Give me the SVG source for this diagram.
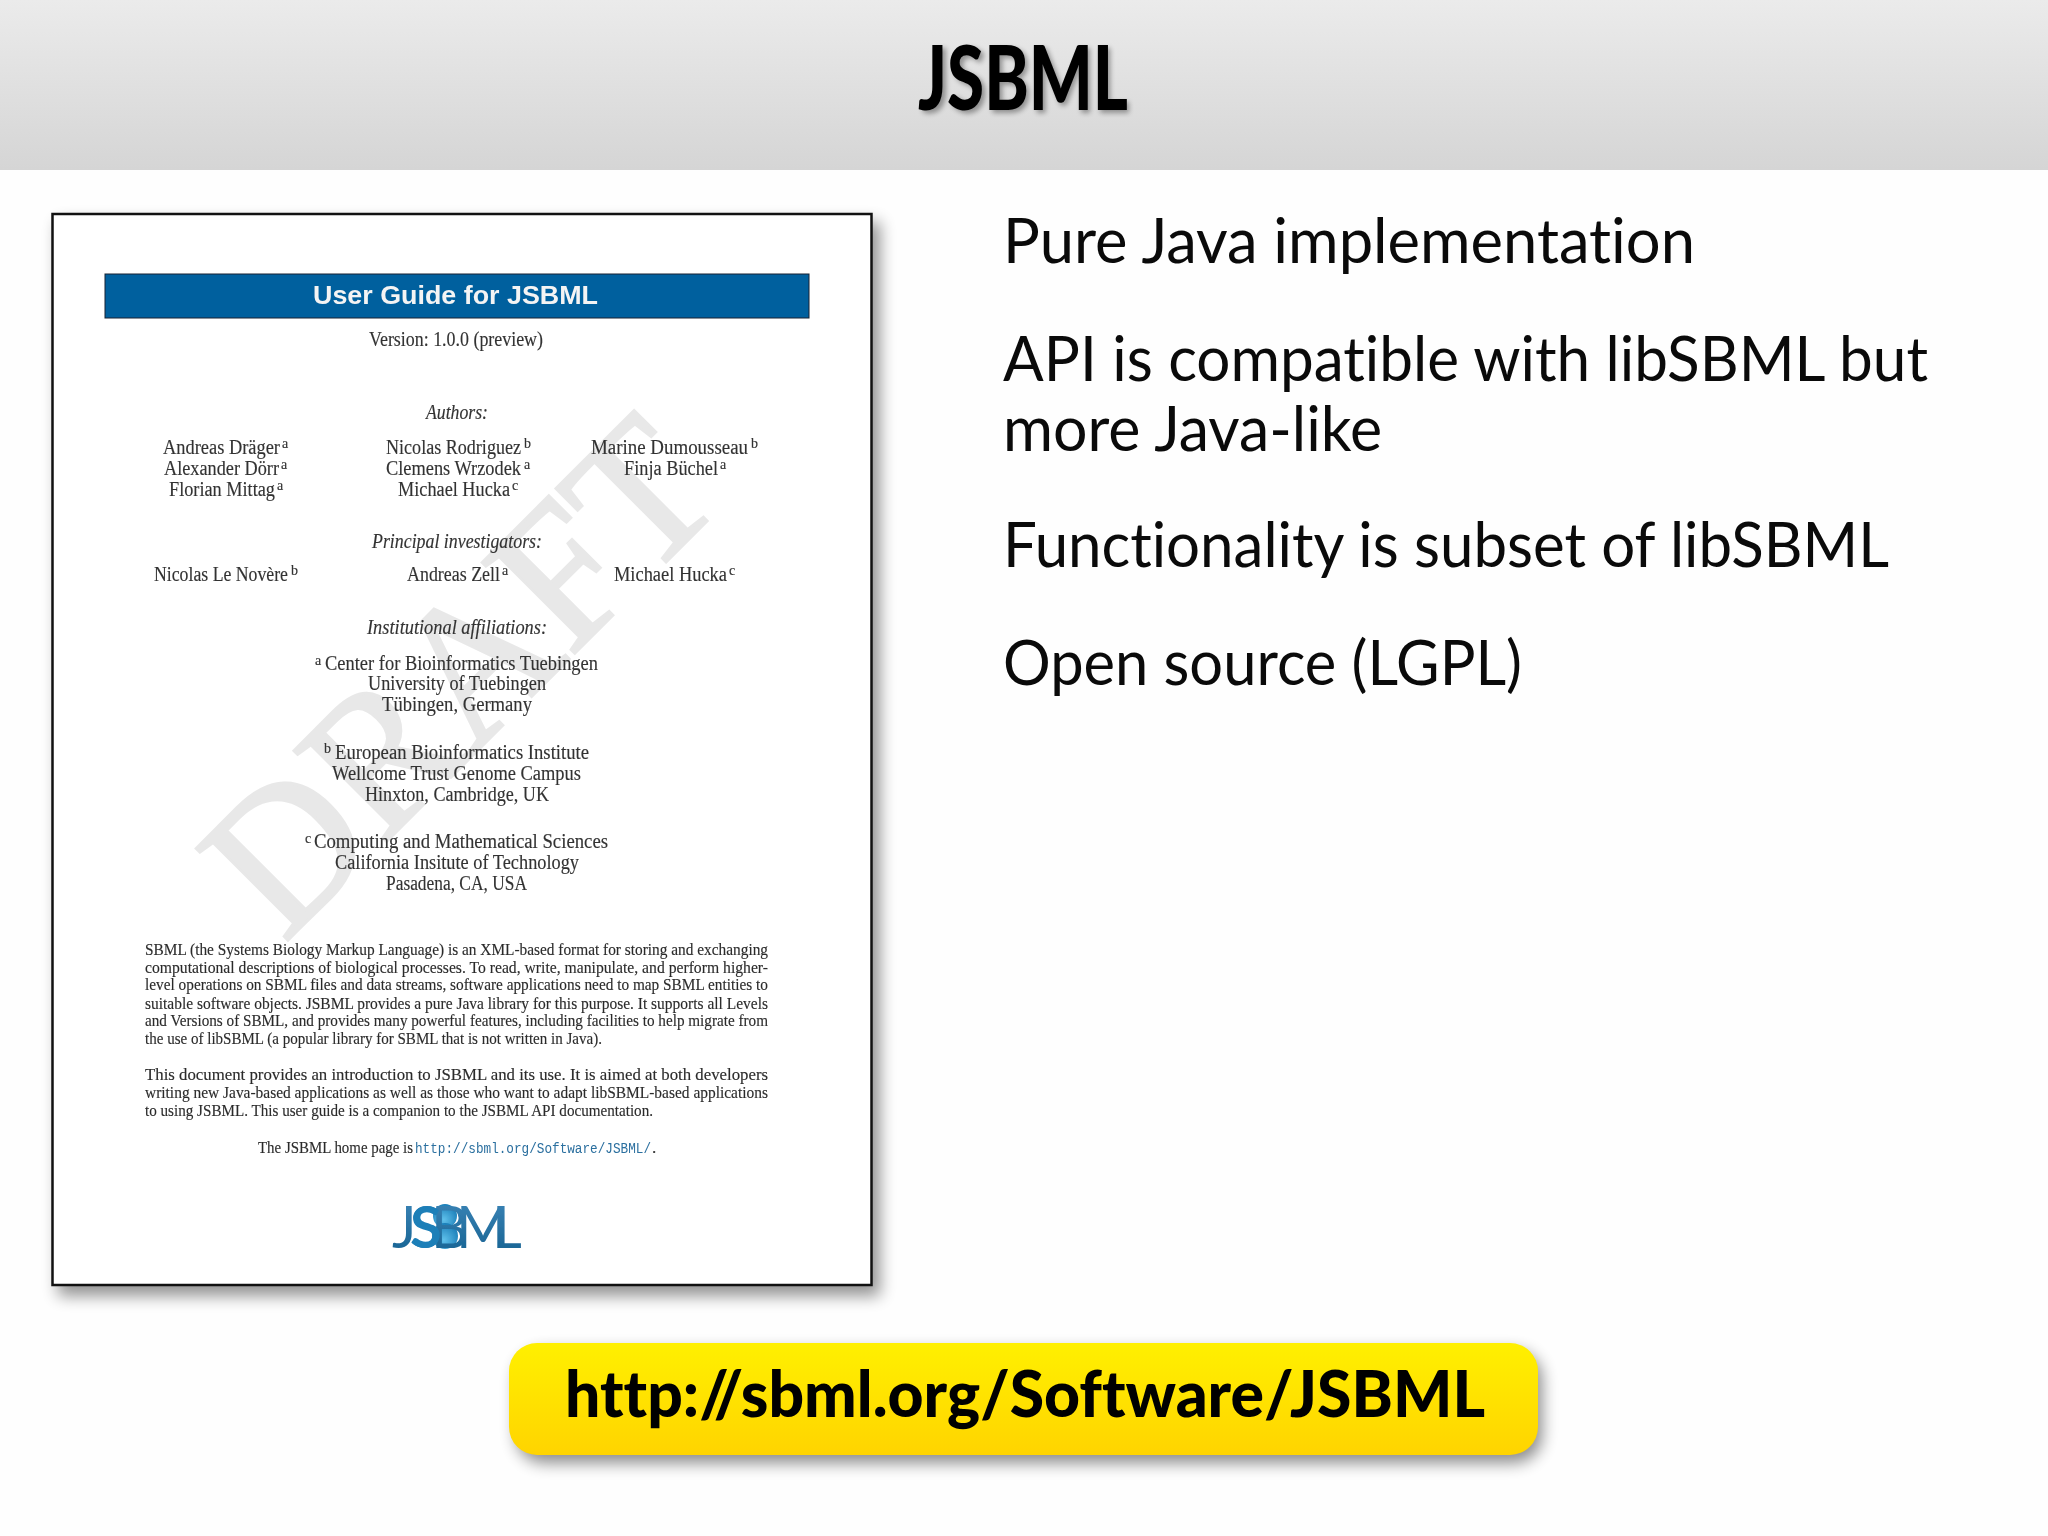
<svg xmlns="http://www.w3.org/2000/svg" width="2048" height="1536" viewBox="0 0 2048 1536">
<style>
text{font-variant-ligatures:none}
.s{font-family:"Liberation Serif",serif;fill:#333;font-size:20px;stroke:#333;stroke-width:.15}
.i{font-style:italic}
.u{font-size:14px}
.b{font-size:17px;fill:#2c2c2c;stroke:#2c2c2c}
.r{font-family:Lato,"Open Sans",sans-serif;font-size:61px;fill:#0a0a0a}
</style>
<defs>
<linearGradient id="hdr" x1="0" y1="0" x2="0" y2="1"><stop offset="0" stop-color="#ebebeb"/><stop offset="1" stop-color="#d5d5d5"/></linearGradient>
<linearGradient id="yel" x1="0" y1="0" x2="0" y2="1"><stop offset="0" stop-color="#fff000"/><stop offset="1" stop-color="#ffd400"/></linearGradient>
<linearGradient id="logo" x1="0" y1="0" x2="0" y2="1"><stop offset="0" stop-color="#3f88bb"/><stop offset="1" stop-color="#14608f"/></linearGradient>
<radialGradient id="ball" cx=".45" cy=".65" r=".7"><stop offset="0" stop-color="#5fc0ea"/><stop offset="1" stop-color="#1478b4"/></radialGradient>
<filter id="tsh" x="-10%" y="-20%" width="125%" height="150%"><feGaussianBlur stdDeviation="2.5"/></filter>
<filter id="soft" x="-2%" y="-2%" width="104%" height="104%"><feGaussianBlur stdDeviation="0.45"/></filter>
<filter id="shb" x="-10%" y="-30%" width="120%" height="170%"><feGaussianBlur stdDeviation="8"/></filter>
</defs>
<rect width="2048" height="1536" fill="#fefefe"/>
<g id="header">
<rect width="2048" height="170" fill="url(#hdr)"/>
<text x="922" y="113" font-family="Lato,'Open Sans',sans-serif" font-weight="900" font-size="90" textLength="208" lengthAdjust="spacingAndGlyphs" fill="#000" opacity=".35" filter="url(#tsh)">JSBML</text>
<text x="918" y="110" font-family="Lato,'Open Sans',sans-serif" font-weight="900" font-size="90" textLength="210" lengthAdjust="spacingAndGlyphs" fill="#000">JSBML</text>
</g>
<g id="document">
<rect x="58" y="222" width="822" height="1074" fill="#000" opacity=".42" filter="url(#shb)"/>
<rect x="52.500" y="214" width="819" height="1071" fill="#fff" stroke="#111" stroke-width="2.5"/>
<g filter="url(#soft)">
<text transform="translate(284 944) rotate(-45)" font-family="'Liberation Serif',serif" font-size="198" fill="#e8e8e8" stroke="#e8e8e8" stroke-width="3" textLength="628" lengthAdjust="spacingAndGlyphs">DRAFT</text>
<rect x="105" y="274" width="704" height="44" fill="#04609e" stroke="#123" stroke-width="1"/>
<text x="313" y="304" font-family="'Liberation Sans',sans-serif" font-weight="700" font-size="26" textLength="285" lengthAdjust="spacingAndGlyphs" fill="#f4f4f4">User Guide for JSBML</text>
<g class="body" transform="translate(0 .7)">
<text class="s" x="369" y="345" textLength="174" lengthAdjust="spacingAndGlyphs">Version: 1.0.0 (preview)</text>
<text class="s i" x="426" y="418" textLength="62" lengthAdjust="spacingAndGlyphs">Authors:</text>
<text class="s" x="163" y="453" textLength="117" lengthAdjust="spacingAndGlyphs">Andreas Dräger</text><text class="s u" x="282" y="447">a</text>
<text class="s" x="164" y="474" textLength="115" lengthAdjust="spacingAndGlyphs">Alexander Dörr</text><text class="s u" x="281" y="468">a</text>
<text class="s" x="169" y="495" textLength="106" lengthAdjust="spacingAndGlyphs">Florian Mittag</text><text class="s u" x="277" y="489">a</text>
<text class="s" x="386" y="453" textLength="135" lengthAdjust="spacingAndGlyphs">Nicolas Rodriguez</text><text class="s u" x="524" y="447">b</text>
<text class="s" x="386" y="474" textLength="135" lengthAdjust="spacingAndGlyphs">Clemens Wrzodek</text><text class="s u" x="524" y="468">a</text>
<text class="s" x="398" y="495" textLength="112" lengthAdjust="spacingAndGlyphs">Michael Hucka</text><text class="s u" x="512" y="489">c</text>
<text class="s" x="591" y="453" textLength="157" lengthAdjust="spacingAndGlyphs">Marine Dumousseau</text><text class="s u" x="751" y="447">b</text>
<text class="s" x="624" y="474" textLength="94" lengthAdjust="spacingAndGlyphs">Finja Büchel</text><text class="s u" x="720" y="468">a</text>
<text class="s i" x="372" y="547" textLength="170" lengthAdjust="spacingAndGlyphs">Principal investigators:</text>
<text class="s" x="154" y="580" textLength="134" lengthAdjust="spacingAndGlyphs">Nicolas Le Novère</text><text class="s u" x="291" y="574">b</text>
<text class="s" x="407" y="580" textLength="93" lengthAdjust="spacingAndGlyphs">Andreas Zell</text><text class="s u" x="502" y="574">a</text>
<text class="s" x="614" y="580" textLength="113" lengthAdjust="spacingAndGlyphs">Michael Hucka</text><text class="s u" x="729" y="574">c</text>
<text class="s i" x="367" y="633" textLength="180" lengthAdjust="spacingAndGlyphs">Institutional affiliations:</text>
<text class="s u" x="315" y="664">a</text><text class="s" x="325" y="669" textLength="273" lengthAdjust="spacingAndGlyphs">Center for Bioinformatics Tuebingen</text>
<text class="s" x="368" y="689" textLength="178" lengthAdjust="spacingAndGlyphs">University of Tuebingen</text>
<text class="s" x="382" y="710" textLength="150" lengthAdjust="spacingAndGlyphs">Tübingen, Germany</text>
<text class="s u" x="324" y="752">b</text><text class="s" x="335" y="758" textLength="254" lengthAdjust="spacingAndGlyphs">European Bioinformatics Institute</text>
<text class="s" x="332" y="779" textLength="249" lengthAdjust="spacingAndGlyphs">Wellcome Trust Genome Campus</text>
<text class="s" x="365" y="800" textLength="184" lengthAdjust="spacingAndGlyphs">Hinxton, Cambridge, UK</text>
<text class="s u" x="305" y="842">c</text><text class="s" x="314" y="847" textLength="294" lengthAdjust="spacingAndGlyphs">Computing and Mathematical Sciences</text>
<text class="s" x="335" y="868" textLength="244" lengthAdjust="spacingAndGlyphs">California Insitute of Technology</text>
<text class="s" x="386" y="889" textLength="141" lengthAdjust="spacingAndGlyphs">Pasadena, CA, USA</text>
<text class="s b" x="145" y="954" textLength="623" lengthAdjust="spacingAndGlyphs">SBML (the Systems Biology Markup Language) is an XML-based format for storing and exchanging</text>
<text class="s b" x="145" y="972" textLength="623" lengthAdjust="spacingAndGlyphs">computational descriptions of biological processes. To read, write, manipulate, and perform higher-</text>
<text class="s b" x="145" y="989" textLength="623" lengthAdjust="spacingAndGlyphs">level operations on SBML files and data streams, software applications need to map SBML entities to</text>
<text class="s b" x="145" y="1008" textLength="623" lengthAdjust="spacingAndGlyphs">suitable software objects. JSBML provides a pure Java library for this purpose. It supports all Levels</text>
<text class="s b" x="145" y="1025" textLength="623" lengthAdjust="spacingAndGlyphs">and Versions of SBML, and provides many powerful features, including facilities to help migrate from</text>
<text class="s b" x="145" y="1043" textLength="457" lengthAdjust="spacingAndGlyphs">the use of libSBML (a popular library for SBML that is not written in Java).</text>
<text class="s b" x="145" y="1079" textLength="623" lengthAdjust="spacingAndGlyphs">This document provides an introduction to JSBML and its use. It is aimed at both developers</text>
<text class="s b" x="145" y="1097" textLength="623" lengthAdjust="spacingAndGlyphs">writing new Java-based applications as well as those who want to adapt libSBML-based applications</text>
<text class="s b" x="145" y="1115" textLength="508" lengthAdjust="spacingAndGlyphs">to using JSBML. This user guide is a companion to the JSBML API documentation.</text>
<text class="s b" x="258" y="1152" textLength="155" lengthAdjust="spacingAndGlyphs">The JSBML home page is</text>
<text x="415" y="1152" font-family="'Liberation Mono',monospace" font-size="14" fill="#2b6f9f" textLength="236" lengthAdjust="spacingAndGlyphs">http://sbml.org/Software/JSBML/</text><text class="s b" x="652" y="1152">.</text>
</g>
<g id="logo-mark">
<circle cx="445" cy="1216" r="12" fill="url(#ball)"/>
<circle cx="445" cy="1236" r="13" fill="url(#ball)"/>
<text y="1248" font-family="Lato,'Open Sans',sans-serif" font-size="58" font-weight="400" fill="url(#logo)" x="392 410 431 456 492">JSBML</text>
<text y="1248" font-family="Lato,'Open Sans',sans-serif" font-size="58" font-weight="700" fill="#1e7fb8" x="410">S</text>
</g>
</g>
</g>
<g id="points" transform="translate(0 1)">
<text class="r" x="1003" y="262" textLength="692" lengthAdjust="spacingAndGlyphs">Pure Java implementation</text>
<text class="r" x="1003" y="380" textLength="925" lengthAdjust="spacingAndGlyphs">API is compatible with libSBML but</text>
<text class="r" x="1003" y="450" textLength="379" lengthAdjust="spacingAndGlyphs">more Java-like</text>
<text class="r" x="1003" y="566" textLength="886" lengthAdjust="spacingAndGlyphs">Functionality is subset of libSBML</text>
<text class="r" x="1003" y="684" textLength="519" lengthAdjust="spacingAndGlyphs">Open source (LGPL)</text>
</g>
<g id="url-button">
<rect x="516" y="1351" width="1026" height="112" rx="28" fill="#000" opacity=".45" filter="url(#shb)"/>
<rect x="509" y="1343" width="1029" height="112" rx="28" fill="url(#yel)"/>
<text x="565" y="1417" font-family="Lato,'Open Sans',sans-serif" font-weight="900" font-size="65" fill="#000" textLength="920" lengthAdjust="spacingAndGlyphs">http://sbml.org/Software/JSBML</text>
</g>
</svg>
